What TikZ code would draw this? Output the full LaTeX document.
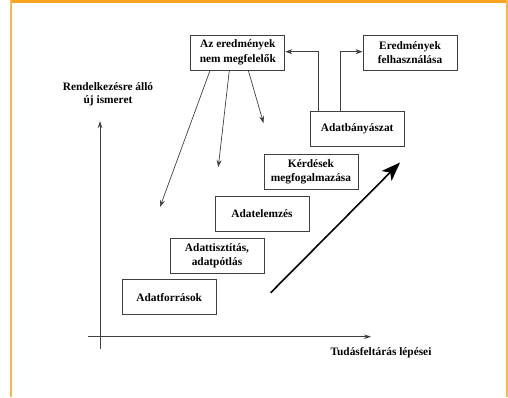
\documentclass[tikz,border=0pt]{standalone}
\usepackage{fontspec}
\setmainfont{Liberation Serif}
\usetikzlibrary{arrows.meta}
\definecolor{frameorange}{HTML}{F7A521}
\definecolor{boxgray}{HTML}{404040}
\tikzset{
  stepbox/.style={draw=boxgray, line width=1bp, minimum width=94bp, minimum height=35bp, align=center, inner sep=0pt, font=\fontsize{11.4}{14.5}\selectfont\bfseries},
  lbl/.style={align=center, inner sep=0pt, font=\fontsize{11.4}{13.5}\selectfont\bfseries},
  conn/.style={draw=black!75, line width=0.7bp, -{Stealth[length=7bp,width=5bp]}},
  axis/.style={draw=black!75, line width=0.8bp, -{Stealth[length=7bp,width=4.5bp]}},
}
\begin{document}
\begin{tikzpicture}[x=1bp,y=-1bp]
\useasboundingbox (0,0) rectangle (508,397);
% frame
\fill[frameorange] (10,0) rectangle (508,3);
\fill[frameorange!80] (10,0) rectangle (12,397);
\fill[frameorange!80] (505.5,0) rectangle (507.5,397);

% boxes
\node[stepbox] (nem) at (237.8,52.5) {Az eredmények\\nem megfelelők};
\node[stepbox] (fel) at (410,52.5) {Eredmények\\felhasználása};
\node[stepbox] (dm) at (357.2,129) {Adatbányászat};
\node[stepbox] (kerd) at (311,171.7) {Kérdések\\megfogalmazása};
\node[stepbox] (elem) at (262,213.8) {Adatelemzés};
\node[stepbox] (tiszt) at (217,255.8) {Adattisztítás,\\adatpótlás};
\node[stepbox] (forr) at (169.2,297.3) {Adatforrások};

% labels
\node[lbl] (ylab) at (108,94.5) {Rendelkezésre álló\\új ismeret};
\node[lbl] (xlab) at (381,353) {Tudásfeltárás lépései};

% axes
\coordinate (yb) at (100,349);
\coordinate (yt) at (100,121);
\coordinate (xl) at (88,336.7);
\coordinate (xr) at (371,336.7);
\draw[axis] (yb) -- (yt);
\draw[axis] (xl) -- (xr);

% feedback connectors
\draw[conn] (dm.north -| 318.3,0) |- (nem.east |- 0,51.7);
\draw[conn] (dm.north -| 340,0) |- (fel.west |- 0,51.7);

% arrows from the top box
\coordinate (a1) at (160,207);
\coordinate (a2) at (218.3,167);
\coordinate (a3) at (263.5,123);
\draw[conn] (nem.south -| 210,0) -- (a1);
\draw[conn] (nem.south -| 229.3,0) -- (a2);
\draw[conn] (nem.south -| 248.3,0) -- (a3);

% big arrow
\coordinate (b1) at (270.7,292.7);
\coordinate (b2) at (400,162.5);
\draw[line width=1.6bp, -{Stealth[length=19bp,width=14bp,inset=5bp]}] (b1) -- (b2);
\end{tikzpicture}
\end{document}
